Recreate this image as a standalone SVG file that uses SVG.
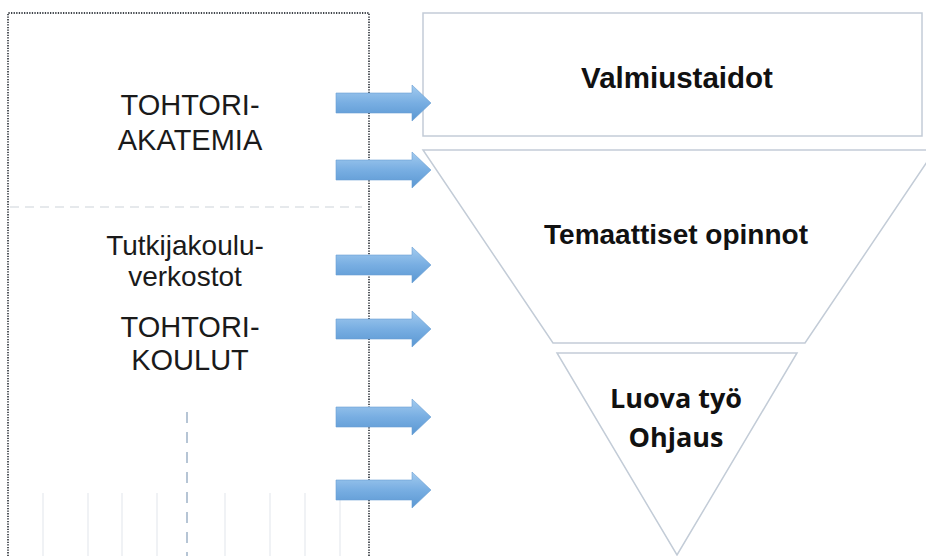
<svg xmlns="http://www.w3.org/2000/svg" xmlns:xlink="http://www.w3.org/1999/xlink" width="926" height="556" viewBox="0 0 926 556">
  <defs>
    <linearGradient id="arrGrad" x1="0" y1="0" x2="0" y2="1">
      <stop offset="0" stop-color="#a3cbef"/>
      <stop offset="0.5" stop-color="#78aee2"/>
      <stop offset="1" stop-color="#5a97d2"/>
    </linearGradient>
    <path id="arrow" d="M0,-10 H76 V-18 L95,0 L76,18 V10 H0 Z"/>
  </defs>
  <style>
    .frame { fill: none; stroke: #3f444a; stroke-width: 1.8; stroke-dasharray: 1.3 1.3; }
    .sep { fill: none; stroke: #cdd3da; stroke-width: 1.2; stroke-dasharray: 9 6; }
    .vdash { fill: none; stroke: #9fb3c8; stroke-width: 1.5; stroke-dasharray: 11 9; }
    .faint { fill: none; stroke: #e6eaef; stroke-width: 1.2; }
    .shape { fill: #ffffff; stroke: #c3ccd7; stroke-width: 1.5; }
    .lbl { font-family: "Liberation Sans", Arial, sans-serif; font-size: 29px; fill: #1a1a1a; text-anchor: middle; }
    .lbl2 { font-family: "Liberation Sans", Arial, sans-serif; font-size: 28px; fill: #1a1a1a; text-anchor: middle; }
    .bold { font-family: "Liberation Sans", Arial, sans-serif; font-size: 28px; font-weight: bold; fill: #111111; text-anchor: middle; }
    .bold1 { font-family: "Liberation Sans", Arial, sans-serif; font-size: 29.5px; font-weight: bold; fill: #111111; text-anchor: middle; }
    .cal { font-family: "Open Sans", "Noto Sans", sans-serif; font-size: 27px; font-weight: bold; fill: #111111; text-anchor: middle; }
    .arr { fill: url(#arrGrad); stroke: #6a9fd4; stroke-width: 0.6; }
  </style>
  <rect width="926" height="556" fill="#ffffff"/>

  <g id="left-panel">
    <path class="frame" d="M8,556 V13 H369 V556"/>
    <line class="sep" x1="10" y1="207" x2="362" y2="207"/>
    <line class="vdash" x1="187" y1="412" x2="187" y2="556"/>
    <g class="faint">
      <line x1="43" y1="493" x2="43" y2="556"/>
      <line x1="88" y1="493" x2="88" y2="556"/>
      <line x1="122" y1="493" x2="122" y2="556"/>
      <line x1="157" y1="493" x2="157" y2="556"/>
      <line x1="225" y1="493" x2="225" y2="556"/>
      <line x1="270" y1="493" x2="270" y2="556"/>
      <line x1="305" y1="493" x2="305" y2="556"/>
      <line x1="340" y1="493" x2="340" y2="556"/>
    </g>
  </g>

  <g id="tohtoriakatemia">
    <text class="lbl" x="190" y="115">TOHTORI-</text>
    <text class="lbl" x="190" y="150">AKATEMIA</text>
  </g>

  <g id="tutkijakouluverkostot">
    <text class="lbl2" x="185" y="255">Tutkijakoulu-</text>
    <text class="lbl2" x="185" y="286">verkostot</text>
  </g>

  <g id="tohtorikoulut">
    <text class="lbl" x="190" y="337">TOHTORI-</text>
    <text class="lbl" x="190" y="370">KOULUT</text>
  </g>

  <g id="valmiustaidot">
    <rect class="shape" x="423" y="13" width="499" height="123"/>
    <text class="bold1" x="677" y="88">Valmiustaidot</text>
  </g>

  <g id="temaattiset-opinnot">
    <path class="shape" d="M423,150 H935 L805,343 H553 Z"/>
    <text class="bold" x="676" y="244">Temaattiset opinnot</text>
  </g>

  <g id="luova-tyo">
    <path class="shape" d="M557,353 H797 L677,555 Z"/>
    <text class="cal" x="676" y="408">Luova työ</text>
    <text class="cal" x="676" y="447">Ohjaus</text>
  </g>

  <g id="connectors">
    <use class="arr" xlink:href="#arrow" href="#arrow" x="336" y="103"/>
    <use class="arr" xlink:href="#arrow" href="#arrow" x="336" y="170"/>
    <use class="arr" xlink:href="#arrow" href="#arrow" x="336" y="265"/>
    <use class="arr" xlink:href="#arrow" href="#arrow" x="336" y="329"/>
    <use class="arr" xlink:href="#arrow" href="#arrow" x="336" y="417"/>
    <use class="arr" xlink:href="#arrow" href="#arrow" x="336" y="490"/>
  </g>
</svg>
